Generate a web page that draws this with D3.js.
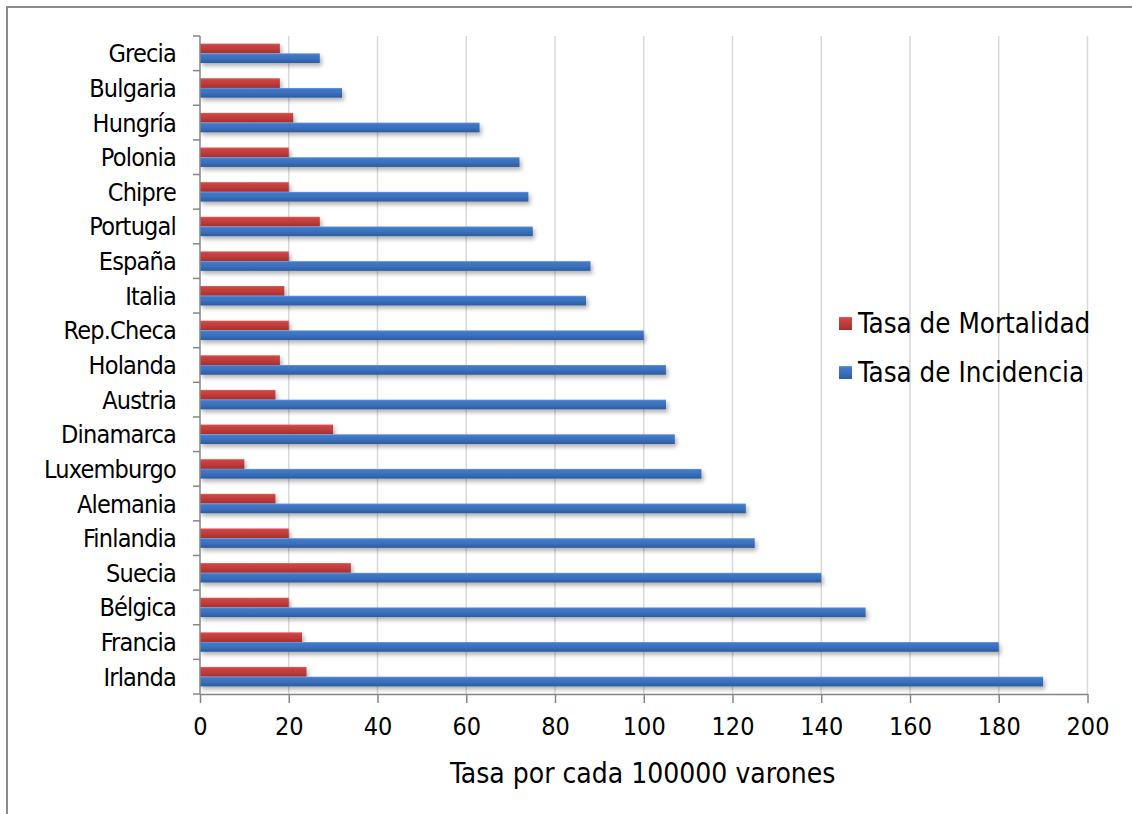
<!DOCTYPE html>
<html>
<head>
<meta charset="utf-8">
<script src="https://cdn.jsdelivr.net/npm/d3@7"></script>
<style>
  html, body { margin: 0; padding: 0; background: #fff; }
  svg text { font-family: "DejaVu Sans Condensed", "DejaVu Sans", sans-serif; font-stretch: condensed; fill: #000; }
</style>
</head>
<body>
<svg id="chart" width="1132" height="814"></svg>
<script>
// Countries, top to bottom
const countries = ["Grecia", "Bulgaria", "Hungría", "Polonia", "Chipre", "Portugal", "España", "Italia",
  "Rep.Checa", "Holanda", "Austria", "Dinamarca", "Luxemburgo", "Alemania", "Finlandia", "Suecia",
  "Bélgica", "Francia", "Irlanda"];
// Mortality rate per 100000 men
const mortalidad = [18, 18, 21, 20, 20, 27, 20, 19, 20, 18, 17, 30, 10, 17, 20, 34, 20, 23, 24];
// Incidence rate per 100000 men
const incidencia = [27, 32, 63, 72, 74, 75, 88, 87, 100, 105, 105, 107, 113, 123, 125, 140, 150, 180, 190];
const seriesNames = ["Tasa de Mortalidad", "Tasa de Incidencia"];
const xTicks = [0, 20, 40, 60, 80, 100, 120, 140, 160, 180, 200];
const xTitle = "Tasa por cada 100000 varones";

const svg = d3.select("#chart");
const W = 1132, H = 814;
const plot = { left: 200, right: 1087.5, top: 36, bottom: 694 };

svg.append("rect").attr("width", W).attr("height", H).attr("fill", "#fff");

// gradients & shadow
const defs = svg.append("defs");
const palettes = [
  { id: "gRed", stops: ["#e0625f", "#cc4543", "#be3b39", "#a33030"] },
  { id: "gBlue", stops: ["#6b9ae0", "#4079c9", "#3a6fbb", "#2d5b9e"] }
];
palettes.forEach(p => {
  const g = defs.append("linearGradient").attr("id", p.id)
    .attr("x1", 0).attr("y1", 0).attr("x2", 0).attr("y2", 1);
  [0, 0.15, 0.55, 1].forEach((o, i) =>
    g.append("stop").attr("offset", o).attr("stop-color", p.stops[i]));
});
const f = defs.append("filter").attr("id", "shadow")
  .attr("x", "-5%").attr("y", "-50%").attr("width", "115%").attr("height", "250%");
f.append("feDropShadow").attr("dx", 2).attr("dy", 3).attr("stdDeviation", 2)
  .attr("flood-color", "#000").attr("flood-opacity", 0.3);

// outer frame
svg.append("rect").attr("x", 7).attr("y", 7).attr("width", 1200).attr("height", 900)
  .attr("fill", "none").attr("stroke", "#8c8c8c").attr("stroke-width", 2);

const x = d3.scaleLinear().domain([0, 200]).range([plot.left, plot.right]);
const y = d3.scaleBand().domain(countries).range([plot.top, plot.bottom]).paddingInner(0).paddingOuter(0);
const ySub = d3.scaleBand().domain(seriesNames).range([0, y.bandwidth()]).paddingInner(0).paddingOuter(0.78);

// vertical gridlines
svg.append("g").selectAll("line").data(xTicks.filter(t => t > 0)).join("line")
  .attr("x1", d => x(d)).attr("x2", d => x(d))
  .attr("y1", plot.top).attr("y2", plot.bottom)
  .attr("stroke", "#d9d9d9").attr("stroke-width", 1.5);

// bars
const rows = countries.map((c, i) => ({ c, vals: [mortalidad[i], incidencia[i]] }));
const barG = svg.append("g").attr("filter", "url(#shadow)");
rows.forEach(r => {
  r.vals.forEach((v, k) => {
    barG.append("rect")
      .attr("x", x(0))
      .attr("y", y(r.c) + ySub(seriesNames[k]))
      .attr("width", x(v) - x(0))
      .attr("height", ySub.bandwidth())
      .attr("fill", k === 0 ? "url(#gRed)" : "url(#gBlue)");
  });
});

// x axis
const xAxis = d3.axisBottom(x).tickValues(xTicks).tickSizeInner(9).tickSizeOuter(0).tickPadding(14);
const gx = svg.append("g").attr("transform", `translate(0,${plot.bottom})`).call(xAxis);
gx.select(".domain").attr("stroke", "#868686").attr("stroke-width", 1.5);
gx.selectAll(".tick line").attr("stroke", "#868686").attr("stroke-width", 1.5);
gx.selectAll(".tick text").attr("font-size", 25).style("font-family", null);

// y axis (ticks between categories)
svg.append("line").attr("x1", plot.left).attr("x2", plot.left)
  .attr("y1", plot.top).attr("y2", plot.bottom)
  .attr("stroke", "#868686").attr("stroke-width", 1.5);
const bounds = countries.map(c => y(c)).concat([plot.bottom]);
svg.append("g").selectAll("line").data(bounds).join("line")
  .attr("x1", plot.left - 7).attr("x2", plot.left)
  .attr("y1", d => d).attr("y2", d => d)
  .attr("stroke", "#868686").attr("stroke-width", 1.5);
svg.append("g").selectAll("text").data(countries).join("text")
  .attr("x", 176).attr("y", d => y(d) + y.bandwidth() / 2)
  .attr("dy", "0.36em").attr("text-anchor", "end").attr("font-size", 25)
  .attr("letter-spacing", -0.8)
  .text(d => d);

// axis title
svg.append("text").attr("x", (plot.left + plot.right) / 2 - 1).attr("y", 783)
  .attr("text-anchor", "middle").attr("font-size", 28).text(xTitle);

// legend
const legend = svg.append("g");
seriesNames.forEach((s, i) => {
  const ly = 323 + i * 49;
  legend.append("rect").attr("x", 839).attr("y", ly - 6).attr("width", 13).attr("height", 13)
    .attr("fill", i === 0 ? "url(#gRed)" : "url(#gBlue)");
  legend.append("text").attr("x", 858).attr("y", ly).attr("dy", "0.36em")
    .attr("font-size", 27.5).text(s);
});
</script>
</body>
</html>
